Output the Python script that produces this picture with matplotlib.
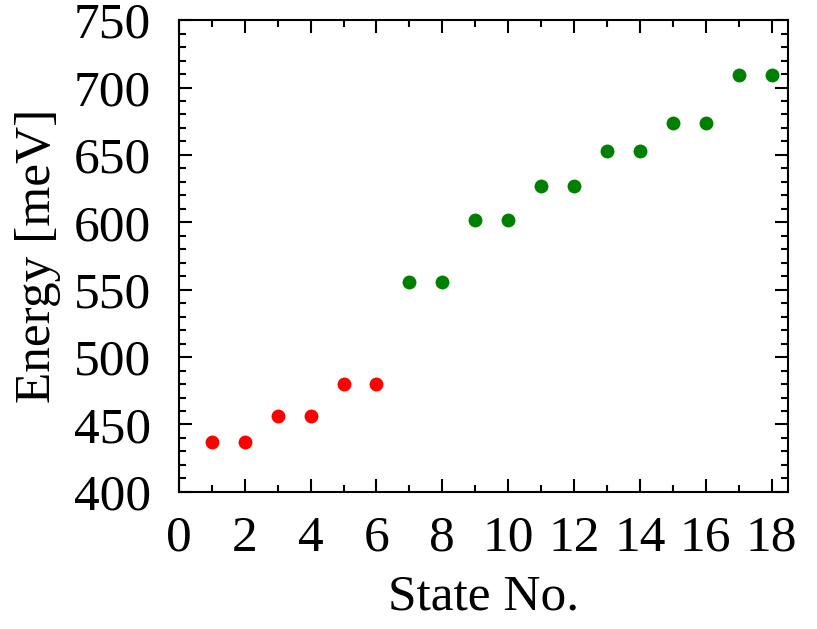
import matplotlib
matplotlib.use("Agg")
import matplotlib.pyplot as plt
from matplotlib.ticker import MultipleLocator

# state number vs energy (meV)
states_red = [1, 2, 3, 4, 5, 6]
energy_red = [437, 437, 456, 456, 480, 480]
states_green = [7, 8, 9, 10, 11, 12, 13, 14, 15, 16, 17, 18]
energy_green = [556, 556, 602, 602, 627, 627, 653, 653, 674, 674, 709, 709]

plt.rcParams['font.family'] = ['Liberation Serif', 'DejaVu Serif']

fig = plt.figure(figsize=(8.17, 6.29), dpi=100)
ax = fig.add_axes([0.219, 0.218, 0.7455, 0.750])

ax.plot(states_red, energy_red, 'o', color='#ff0000', markersize=10,
        markeredgewidth=0)
ax.plot(states_green, energy_green, 'o', color='#008000', markersize=10,
        markeredgewidth=0)

ax.set_xlim(0, 18.5)
ax.set_ylim(400, 750)
ax.xaxis.set_major_locator(MultipleLocator(2))
ax.xaxis.set_minor_locator(MultipleLocator(1))
ax.yaxis.set_major_locator(MultipleLocator(50))
ax.yaxis.set_minor_locator(MultipleLocator(10))

ax.tick_params(which='both', direction='in', top=True, right=True,
               width=1.5, labelsize=37)
ax.tick_params(axis='x', pad=17)
ax.tick_params(axis='y', pad=20)
ax.tick_params(which='major', length=9.5)
ax.tick_params(which='minor', length=5)
for s in ax.spines.values():
    s.set_linewidth(1.5)

ax.set_xlabel('State No.', fontsize=37, labelpad=9)
ax.set_ylabel('Energy [meV]', fontsize=37, labelpad=9)

fig.savefig('out.png', dpi=100)
